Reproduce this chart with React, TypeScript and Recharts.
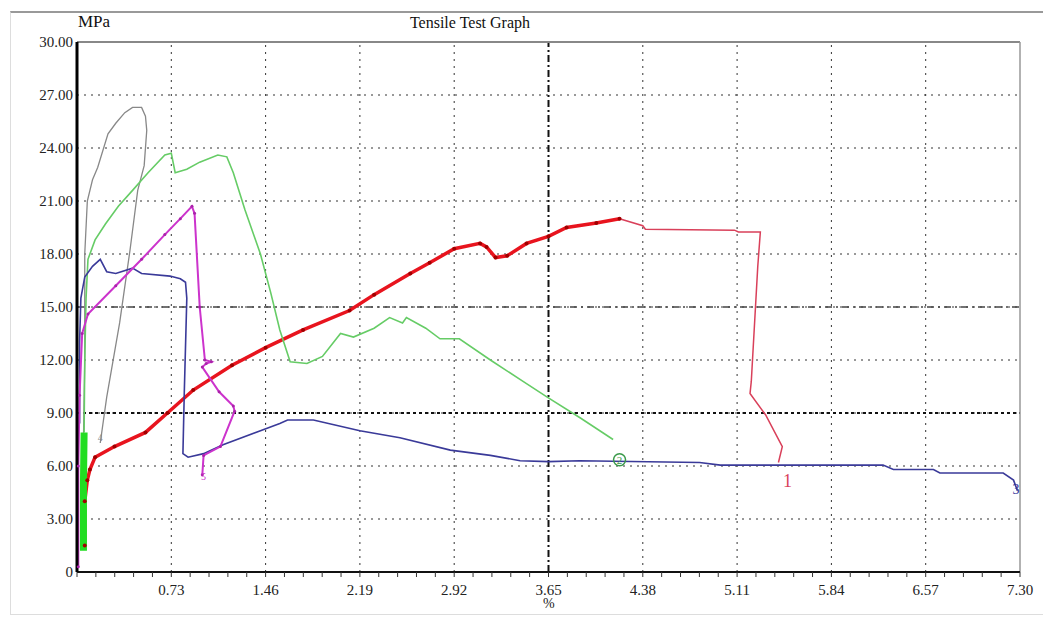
import { LineChart, Line, XAxis, YAxis, CartesianGrid, ReferenceLine, ReferenceDot } from 'recharts'

// specimen 1 (red) - hardening part, drawn thick
const s1X = [0.06, 0.06, 0.08, 0.1, 0.14, 0.29, 0.53, 0.7, 0.9, 1.2, 1.46, 1.75, 2.11, 2.3, 2.58, 2.73, 2.92, 3.12, 3.17, 3.24, 3.33, 3.48, 3.65, 3.79, 4.02, 4.2]
const s1Y = [1.5, 4.0, 5.2, 5.8, 6.5, 7.1, 7.9, 9.0, 10.3, 11.7, 12.7, 13.7, 14.8, 15.7, 16.9, 17.5, 18.3, 18.6, 18.4, 17.8, 17.9, 18.6, 19.0, 19.5, 19.75, 20.0]
// specimen 1 (red) - after peak
const s1TailX = [4.2, 4.38, 4.4, 5.09, 5.12, 5.29, 5.27, 5.22, 5.21, 5.33, 5.46, 5.43]
const s1TailY = [20.0, 19.6, 19.4, 19.35, 19.25, 19.25, 17.3, 10.8, 10.1, 8.9, 7.1, 6.2]

// specimen 2 (green)
const s2EarlyX = [0.05, 0.05, 0.055]
const s2EarlyY = [1.2, 5.0, 7.9]
const s2X = [0.055, 0.06, 0.07, 0.085, 0.14, 0.22, 0.32, 0.43, 0.55, 0.68, 0.73, 0.76, 0.85, 0.95, 1.09, 1.16, 1.21, 1.3, 1.42, 1.5, 1.57, 1.65, 1.78, 1.9, 2.04, 2.14, 2.3, 2.42, 2.52, 2.55, 2.7, 2.81, 2.96, 3.2, 3.45, 3.64, 3.9, 4.15]
const s2Y = [7.9, 12.0, 15.5, 17.7, 18.8, 19.7, 20.7, 21.6, 22.6, 23.6, 23.7, 22.6, 22.8, 23.2, 23.6, 23.5, 22.6, 20.5, 18.0, 15.8, 13.7, 11.9, 11.8, 12.2, 13.5, 13.3, 13.8, 14.4, 14.1, 14.4, 13.8, 13.2, 13.2, 12.0, 10.8, 9.9, 8.7, 7.5]

// specimen 3 (blue)
const s3X = [0.02, 0.02, 0.03, 0.06, 0.12, 0.18, 0.23, 0.3, 0.43, 0.5, 0.72, 0.8, 0.84, 0.85, 0.83, 0.82, 0.86, 0.98, 1.13, 1.42, 1.57, 1.63, 1.83, 2.19, 2.5, 2.89, 3.2, 3.43, 3.65, 3.89, 4.82, 4.98, 6.24, 6.32, 6.63, 6.68, 7.17, 7.25, 7.28]
const s3Y = [8.4, 13.0, 15.5, 16.7, 17.3, 17.7, 17.0, 16.9, 17.2, 16.9, 16.75, 16.6, 16.4, 15.5, 10.0, 6.7, 6.5, 6.7, 7.2, 8.0, 8.4, 8.6, 8.6, 8.0, 7.6, 6.9, 6.6, 6.3, 6.25, 6.3, 6.2, 6.05, 6.05, 5.8, 5.8, 5.6, 5.6, 5.2, 4.6]

// specimen 4 (grey)
const s4X = [0.05, 0.06, 0.06, 0.08, 0.12, 0.16, 0.24, 0.3, 0.37, 0.43, 0.5, 0.53, 0.54, 0.52, 0.47, 0.41, 0.33, 0.23, 0.18]
const s4Y = [7.5, 12.0, 18.0, 21.0, 22.2, 22.9, 24.8, 25.4, 26.0, 26.3, 26.3, 25.8, 25.0, 23.0, 21.6, 18.2, 14.1, 9.9, 7.3]

// specimen 5 (magenta)
const s5X = [0.01, 0.01, 0.02, 0.04, 0.085, 0.3, 0.5, 0.68, 0.8, 0.89, 0.91, 0.95, 0.99, 1.04, 1.0, 0.97, 1.1, 1.21, 1.22, 1.11, 0.98, 0.97]
const s5Y = [0.3, 6.0, 10.0, 13.5, 14.6, 16.2, 17.7, 19.1, 20.0, 20.7, 20.3, 15.0, 12.0, 11.9, 11.8, 11.6, 10.2, 9.4, 9.1, 7.1, 6.6, 5.5]

const xMajor = [0.73, 1.46, 2.19, 2.92, 3.65, 4.38, 5.11, 5.84, 6.57, 7.3]
const yTicks = [0, 3, 6, 9, 12, 15, 18, 21, 24, 27, 30]

const specimenLabels = [
  { id: '1', x: 5.5, y: 5.2, color: '#d9405a', size: 18 },
  { id: '2', x: 4.2, y: 6.35, color: '#3a9a4a', size: 11 },
  { id: '3', x: 7.27, y: 4.7, color: '#333399', size: 14 },
  { id: '4', x: 0.18, y: 7.6, color: '#888888', size: 10 },
  { id: '5', x: 0.98, y: 5.4, color: '#cc33cc', size: 10 },
]

const pts = (xs: number[], ys: number[]) => xs.map((x, i) => ({ x, y: ys[i] }))

const minorTicks = Array.from({ length: 51 }, (_, i) => +(i * 0.146).toFixed(3))
const serif = 'Liberation Serif, DejaVu Serif, serif'

export default function App() {
  return (
    <div style={{ position: 'absolute', left: 0, top: 0, width: 1044, height: 626, background: '#fff', fontFamily: serif }}>
      <div style={{ position: 'absolute', left: 10, top: 11, width: 1032, height: 601, borderTop: '2px solid #999', borderLeft: '1px solid #ddd', borderBottom: '1px solid #ddd' }} />
      <div style={{ position: 'absolute', left: 0, top: 14, width: 940, textAlign: 'center', fontSize: 16, color: '#111', fontFamily: serif }}>Tensile Test Graph</div>
      <div style={{ position: 'absolute', left: 78, top: 12, fontSize: 17, color: '#111', fontFamily: serif }}>MPa</div>
      <div style={{ position: 'absolute', left: 543, top: 596, fontSize: 14, color: '#222', fontFamily: serif }}>%</div>
      <LineChart width={1044} height={626} margin={{ top: 42, right: 24, bottom: 24, left: 0 }} style={{ position: 'absolute', left: 0, top: 0 }}>
        <CartesianGrid vertical={false} stroke="#333" strokeDasharray="2 5" />
        {xMajor.slice(0, -1).map((v) =>
          v === 3.65 ? null : <ReferenceLine key={v} x={v} stroke="#333" strokeDasharray="2 5" />
        )}
        <ReferenceLine x={3.65} stroke="#111" strokeWidth={2} strokeDasharray="7 3 2 3" />
        <ReferenceLine y={9} stroke="#111" strokeWidth={2} strokeDasharray="3 3" />
        <ReferenceLine y={15} stroke="#444" strokeWidth={1.5} strokeDasharray="7 4 2 4" />
        <ReferenceLine y={30} stroke="#888" strokeWidth={2} />
        <ReferenceLine x={7.3} stroke="#999" strokeWidth={1.5} />
        <XAxis
          type="number"
          dataKey="x"
          domain={[0, 7.3]}
          ticks={minorTicks}
          interval={0}
          tickFormatter={(v: number) => (xMajor.includes(v) ? v.toFixed(2) : '')}
          tick={{ fontSize: 15, fill: '#222', fontFamily: serif }}
          axisLine={{ stroke: '#111', strokeWidth: 2 }}
          tickLine={{ stroke: '#333' }}
          tickSize={5}
          tickMargin={7}
          height={30}
        />
        <YAxis
          type="number"
          dataKey="y"
          domain={[0, 30]}
          ticks={yTicks}
          interval={0}
          tickFormatter={(v: number) => (v === 0 ? '0' : v.toFixed(2))}
          tick={{ fontSize: 15, fill: '#222', fontFamily: serif }}
          axisLine={{ stroke: '#000', strokeWidth: 3 }}
          tickLine={false}
          tickSize={3}
          tickMargin={1}
          width={77}
        />
        <Line data={pts(s4X, s4Y)} dataKey="y" stroke="#888" strokeWidth={1.3} dot={false} isAnimationActive={false} />
        <Line data={pts(s1TailX, s1TailY)} dataKey="y" stroke="#d9405a" strokeWidth={1.5} dot={false} isAnimationActive={false} />
        <Line data={pts(s1X, s1Y)} dataKey="y" stroke="#e8141e" strokeWidth={3.5} dot={{ r: 2, fill: '#a00000', stroke: 'none' }} isAnimationActive={false} />
        <Line data={pts(s2EarlyX, s2EarlyY)} dataKey="y" stroke="#22dd22" strokeWidth={7} dot={false} isAnimationActive={false} />
        <Line data={pts(s2X, s2Y)} dataKey="y" stroke="#66cc66" strokeWidth={1.6} dot={false} isAnimationActive={false} />
        <Line data={pts(s3X, s3Y)} dataKey="y" stroke="#3a3a99" strokeWidth={1.6} dot={false} isAnimationActive={false} />
        <Line data={pts(s5X, s5Y)} dataKey="y" stroke="#cc33cc" strokeWidth={2} dot={{ r: 1.5, fill: '#aa22aa', stroke: 'none' }} isAnimationActive={false} />
        <ReferenceDot x={4.2} y={6.35} r={6} fill="none" stroke="#3a9a4a" strokeWidth={1.5} />
        {specimenLabels.map((l) => (
          <ReferenceDot
            key={l.id}
            x={l.x}
            y={l.y}
            r={0}
            label={{ value: l.id, position: 'center', fill: l.color, fontSize: l.size, fontFamily: serif }}
          />
        ))}
      </LineChart>
    </div>
  )
}
